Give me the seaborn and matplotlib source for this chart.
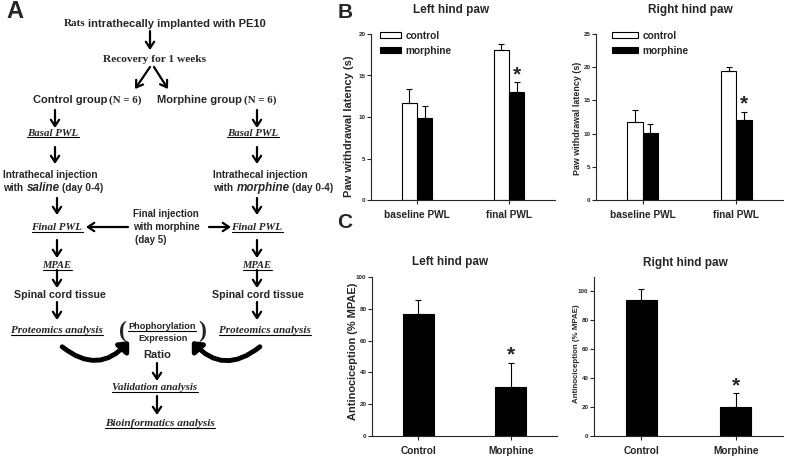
import numpy as np
import pandas as pd
import matplotlib
matplotlib.use('Agg')
import matplotlib.pyplot as plt
import seaborn as sns
from matplotlib.patches import FancyArrowPatch

# values (mean, upper error)
conditions = ['baseline PWL', 'final PWL']
groups = ['control', 'morphine']

left_control = [11.7, 18.1]
left_control_err = [1.7, 0.7]
left_morphine = [9.9, 13.0]
left_morphine_err = [1.4, 1.2]

right_control = [11.7, 19.5]
right_control_err = [1.8, 0.6]
right_morphine = [10.1, 12.0]
right_morphine_err = [1.4, 1.3]

mpae_groups = ['Control', 'Morphine']
mpae_left = [77.0, 31.0]
mpae_left_err = [8.5, 15.0]
mpae_right = [93.8, 20.0]
mpae_right_err = [7.6, 9.7]

sns.set_style('ticks')
plt.rcParams['font.family'] = ['Liberation Sans', 'DejaVu Sans']
plt.rcParams['axes.linewidth'] = 0.8

W, H = 787, 461
fig = plt.figure(figsize=(W / 100, H / 100), dpi=100)


def px_axes(x0, y0, x1, y1):
    return fig.add_axes([x0 / W, 1 - y1 / H, (x1 - x0) / W, (y1 - y0) / H])


def style_axes(ax, ymax, yticks, ylab, ylab_size, lab_xy, xlab_size=7.3):
    sns.despine(ax=ax)
    ax.set_facecolor('none')
    ax.set_xlim(-0.5, 1.5)
    ax.set_ylim(0, ymax)
    ax.set_yticks(yticks)
    ax.set_xlabel('')
    ax.set_ylabel(ylab, fontsize=ylab_size, fontweight='bold')
    ax.yaxis.set_label_coords(*lab_xy)
    ax.tick_params(axis='y', labelsize=4.5, length=3, width=0.8, pad=1)
    ax.tick_params(axis='x', labelsize=xlab_size, length=3, width=0.8, pad=4)
    for lab in ax.get_xticklabels() + ax.get_yticklabels():
        lab.set_fontweight('bold')


def star(ax, bar, err):
    ax.annotate('*', xy=(bar.get_x() + bar.get_width() / 2, bar.get_height() + err),
                xytext=(0, 1.5), textcoords='offset points', ha='center', va='baseline',
                fontsize=15, fontweight='bold')


def pwl_panel(ax, ctrl, ctrl_err, morph, morph_err, ymax, yticks, ylab_size, lab_xy, leg_x, hlen):
    df = pd.DataFrame({'condition': conditions * 2,
                       'group': [groups[0]] * 2 + [groups[1]] * 2,
                       'latency': ctrl + morph})
    sns.barplot(data=df, x='condition', y='latency', hue='group', hue_order=groups,
                palette=['white', 'black'], edgecolor='black', linewidth=0.8,
                width=0.33, errorbar=None, ax=ax)
    for cont, err in zip(ax.containers, [ctrl_err, morph_err]):
        xs = [b.get_x() + b.get_width() / 2 for b in cont]
        hs = [b.get_height() for b in cont]
        ax.errorbar(xs, hs, yerr=[np.zeros(len(err)), err], fmt='none', ecolor='black',
                    elinewidth=0.8, capsize=2.5, capthick=0.8)
    star(ax, ax.containers[1][1], morph_err[1])
    handles, labels = ax.get_legend_handles_labels()
    for h in handles:
        h.set_edgecolor('black')
        h.set_linewidth(0.8)
    ax.legend(handles, labels, loc='upper left', bbox_to_anchor=(leg_x, 1.02),
              frameon=False, prop={'size': 7.3, 'weight': 'bold'}, handlelength=hlen,
              handleheight=0.5, handletextpad=0.4, labelspacing=0.48,
              borderaxespad=0, borderpad=0)
    style_axes(ax, ymax, yticks, 'Paw withdrawal latency (s)', ylab_size, lab_xy)


def mpae_panel(ax, vals, errs, ymax, ylab_size, lab_xy):
    df = pd.DataFrame({'group': mpae_groups, 'mpae': vals})
    sns.barplot(data=df, x='group', y='mpae', color='black', edgecolor='black',
                linewidth=0.8, width=0.33, errorbar=None, ax=ax)
    bars = ax.containers[0]
    xs = [b.get_x() + b.get_width() / 2 for b in bars]
    hs = [b.get_height() for b in bars]
    ax.errorbar(xs, hs, yerr=[np.zeros(len(errs)), errs], fmt='none', ecolor='black',
                elinewidth=0.8, capsize=2.2, capthick=0.8)
    star(ax, bars[1], errs[1])
    style_axes(ax, ymax, [0, 20, 40, 60, 80, 100], 'Antinociception (% MPAE)',
               ylab_size, lab_xy)


# panel B
axb1 = px_axes(371, 34, 555, 200)
pwl_panel(axb1, left_control, left_control_err, left_morphine, left_morphine_err,
          20, [0, 5, 10, 15, 20], 8, (-0.092, 0.446), 0.049, 2.1)
axb2 = px_axes(596, 34, 783, 200)
pwl_panel(axb2, right_control, right_control_err, right_morphine, right_morphine_err,
          25, [0, 5, 10, 15, 20, 25], 6.4, (-0.075, 0.49), 0.086, 2.6)

# panel C
axc1 = px_axes(372, 277, 557, 436)
mpae_panel(axc1, mpae_left, mpae_left_err, 100, 7.9, (-0.076, 0.535))
axc2 = px_axes(594, 277, 783, 436)
mpae_panel(axc2, mpae_right, mpae_right_err, 110, 5.7, (-0.074, 0.52))

# overlay in pixel coordinates for the flow chart, titles and panel letters
ov = fig.add_axes([0, 0, 1, 1])
ov.set_xlim(0, W)
ov.set_ylim(H, 0)
ov.set_axis_off()
rend = fig.canvas.get_renderer()

SANS = 'Liberation Sans'
SERIF = 'Liberation Serif'


def txt(x, y, s, size=8, serif=False, italic=False, ha='center', under=False):
    t = ov.text(x, y, s, fontsize=size, family=SERIF if serif else SANS,
                style='italic' if italic else 'normal', fontweight='bold',
                ha=ha, va='center')
    if under:
        bb = t.get_window_extent(renderer=rend)
        ov.plot([bb.x0, bb.x1], [H - bb.y0, H - bb.y0], color='black', lw=0.8)
    return t


def line(x, y, parts, ha='center'):
    arts = []
    cur = x
    for s, kw, gap in parts:
        t = txt(cur, y, s, ha='left', **kw)
        cur += t.get_window_extent(renderer=rend).width + gap
        arts.append(t)
    if ha == 'center':
        shift = (cur - x) / 2
        for t in arts:
            t.set_x(t.get_position()[0] - shift)


def arr(x0, y0, x1, y1, lw=1.6):
    ov.annotate('', xy=(x1, y1), xytext=(x0, y0),
                arrowprops=dict(arrowstyle='->,head_length=0.45,head_width=0.3',
                                lw=lw, color='black', shrinkA=0, shrinkB=0))


# titles and letters
txt(15, 12, 'A', size=17)
txt(345, 12, 'B', size=15)
txt(345, 222, 'C', size=15)
txt(451, 10, 'Left hind paw', size=8.5)
txt(690, 10, 'Right hind paw', size=8.5)
txt(450, 262, 'Left hind paw', size=8.5)
txt(685, 263, 'Right hind paw', size=8.5)

# flow chart
line(165, 24, [('Rats', dict(size=8, serif=True), 3),
               ('intrathecally implanted with PE10', dict(size=8), 0)])
arr(150, 31, 150, 50)
txt(155, 60, 'Recovery for 1 weeks', size=8.2, serif=True)
arr(150, 67, 135, 89)
arr(154, 67, 168, 89)
line(87, 100, [('Control group', dict(size=8), 2), ('(N = 6)', dict(size=7.8, serif=True), 0)])
line(217, 100, [('Morphine group', dict(size=8), 2), ('(N = 6)', dict(size=7.8, serif=True), 0)])

for cx in (55, 257):
    arr(cx, 110, cx, 128)
    txt(cx - 2 if cx == 55 else cx - 4, 133, 'Basal PWL', size=7.8, serif=True, italic=True, under=True)
    arr(cx, 147, cx, 164)

for x0, drug in ((3, 'saline'), (213, 'morphine')):
    txt(x0, 175, 'Intrathecal injection', size=7.2, ha='left')
    line(x0, 188, [('with ', dict(size=7.2), 1), (drug, dict(size=8.4, italic=True), 2),
                   ('(day 0-4)', dict(size=7.2), 0)], ha='left')

for cx in (57, 257):
    arr(cx, 198, cx, 215)
    txt(cx, 227, 'Final PWL', size=7.9, serif=True, italic=True, under=True)
    arr(cx, 240, cx, 258)
    txt(cx, 265, 'MPAE', size=7.6, serif=True, italic=True, under=True)
    arr(cx, 270, cx, 288)
    txt(cx + 3 if cx == 57 else cx + 1, 295, 'Spinal cord tissue', size=7.7)
    arr(cx, 302, cx, 320)
txt(57, 330, 'Proteomics analysis', size=8, serif=True, italic=True, under=True)
txt(265, 330, 'Proteomics analysis', size=8, serif=True, italic=True, under=True)

txt(133, 214, 'Final injection', size=7, ha='left')
txt(133, 227, 'with morphine', size=7, ha='left')
txt(135, 240, '(day 5)', size=7, ha='left')
arr(128, 227, 86, 227)
arr(209, 227, 231, 227)

txt(123, 331, '(', size=17, serif=True)
txt(202, 331, ')', size=17, serif=True)
txt(162, 326, 'Phophorylation', size=6.6, under=True)
txt(163, 338, 'Expression', size=6.6)
txt(157, 355, 'Ratio', size=8)

ov.add_patch(FancyArrowPatch((60, 345), (131, 339), connectionstyle='arc3,rad=0.5',
                             arrowstyle='-|>,head_length=0.5,head_width=0.45',
                             mutation_scale=10, lw=3.5, color='black'))
ov.add_patch(FancyArrowPatch((262, 345), (190, 339), connectionstyle='arc3,rad=-0.5',
                             arrowstyle='-|>,head_length=0.5,head_width=0.45',
                             mutation_scale=10, lw=3.5, color='black'))

arr(157, 363, 157, 381)
txt(155, 387, 'Validation analysis', size=7.8, serif=True, italic=True, under=True)
arr(157, 396, 157, 415)
txt(160, 423, 'Bioinformatics analysis', size=8.1, serif=True, italic=True, under=True)

fig.savefig('out.png', dpi=100)
